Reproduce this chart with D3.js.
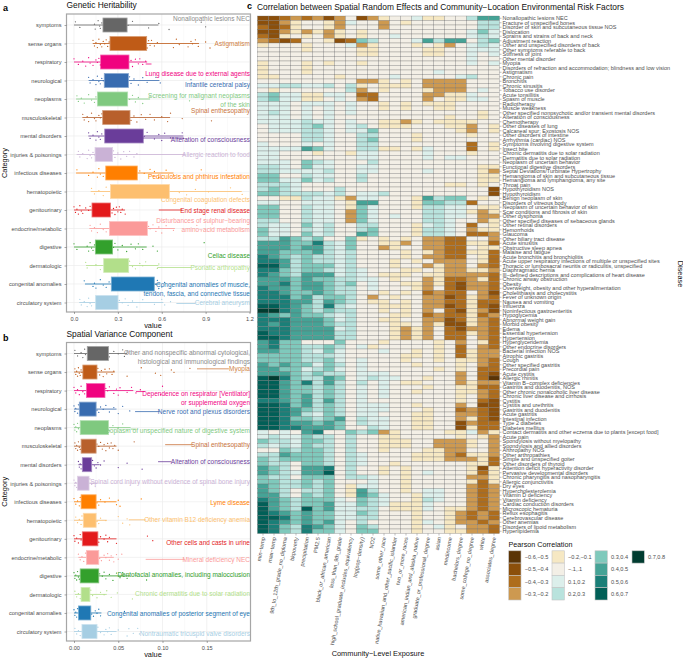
<!DOCTYPE html>
<html><head><meta charset="utf-8">
<script src="https://cdn.jsdelivr.net/npm/d3@7"></script>
<style>html,body{margin:0;padding:0;background:#fff}svg{display:block;font-family:"Liberation Sans",Arial,sans-serif}</style>
</head><body><div id="chart"></div>
<script>
const categories=["symptoms","sense organs","respiratory","neurological","neoplasms","musculoskeletal","mental disorders","injuries & poisonings","infectious diseases","hematopoietic","genitourinary","endocrine/metabolic","digestive","dermatologic","congenital anomalies","circulatory system"];
const categoryColors=["#666666","#bf5b17","#f0027f","#386cb0","#7fc97f","#b8602c","#6a3d9a","#cab2d6","#ff7f00","#fdbf6f","#e31a1c","#fb9a99","#33a02c","#b2df8a","#1f78b4","#a6cee3"];
const labelColors=["#8c8c8c","#cf7f45","#f0027f","#386cb0","#7fc97f","#c9733c","#6a3d9a","#cab2d6","#ff7f00","#fdbf6f","#e31a1c","#fb9a99","#33a02c","#b2df8a","#1f78b4","#a6cee3"];

// panel a: [whiskerLow, q1, q3, whiskerHigh]
const heritabilityBoxes=[[0,.198,.363,.577],[.128,.246,.497,.855],[0,.182,.376,.5],[.1,.207,.372,.584],[.014,.16,.367,.52],[.057,.196,.383,.657],[.098,.21,.474,.748],[.018,.144,.264,.44],[.014,.217,.433,.68],[.114,.249,.652,1.147],[0,.123,.249,.349],[.105,.242,.502,.69],[0,.146,.264,.497],[.082,.203,.374,.577],[.075,.255,.549,.59],[.036,.148,.301,.611]];
const heritabilityPoints=[
[.01,.04,.14,.145,.165,.175,.18,.19,.37,.4,.51,.58,.65,.87,.9],
[.13,.14,.15,.16,.17,.18,.19,.2,.21,.22,.23,.24,.5,.51,.52,.53,.55,.57,.68,.7,.72,.78,.8,.81,.83,.85,.9,.93],
[0,.03,.06,.08,.1,.11,.13,.15,.16,.17,.18,.39,.4,.42,.44,.45,.47,.49],
[.1,.11,.13,.15,.16,.17,.18,.19,.2,.38,.39,.41,.44,.47,.5,.56,.59,.8],
[.02,.03,.05,.07,.1,.12,.14,.15,.38,.4,.42,.44,.47,.52,.79],
[.06,.07,.09,.1,.12,.14,.15,.17,.18,.19,.39,.41,.43,.46,.49,.52,.55,.6,.64,.66,.74,.94],
[.1,.11,.13,.15,.16,.17,.18,.19,.48,.5,.55,.58,.6,.62,.66,.74,.75],
[.03,.04,.06,.09,.1,.11,.12,.13,.14,.27,.28,.3,.32,.34,.36,.38,.41,.43],
[.02,.1,.13,.16,.17,.18,.2,.45,.48,.52,.54,.55,.58,.63,.68,.87],
[.12,.14,.17,.2,.22,.72,.77,.83,.92,1.07,1.15],
[0,.01,.02,.03,.04,.05,.06,.08,.1,.11,.26,.27,.28,.29,.3,.31,.32,.33,.35],
[.11,.12,.14,.16,.18,.2,.22,.51,.52,.54,.56,.58,.6,.63,.68,.84,.87],
[0,.02,.09,.1,.11,.12,.13,.14,.27,.28,.3,.33,.36,.39,.42,.44,.47,.54,.57,.89],
[.08,.09,.15,.18,.38,.4,.42,.45,.47,.49,.57,.58],
[.07,.13,.14,.15,.18,.2,.22,.24,.56,.57,.6,.62,.58],
[.04,.05,.07,.09,.1,.11,.12,.31,.33,.35,.37,.4,.43,.47,.55,.6,.62,.66]];
const heritabilityLabels=[["Nonallopathic lesions NEC"],["Astigmatism"],["Lung disease due to external agents"],["Infantile cerebral palsy"],["Screening for malignant neoplasms","of the skin"],["Spinal enthesopathy"],["Alteration of consciousness"],["Allergic reaction to food"],["Pediculosis and phthirus infestation"],["Congenital coagulation defects"],["End stage renal disease"],["Disturbances of sulphur−bearing","amino−acid metabolism"],["Celiac disease"],["Psoriatic arthropathy"],["Congenital anomalies of muscle,","tendon, fascia, and connective tissue"],["Cerebral aneurysm"]];
const heritabilityLabelShift=[-6.5,0,11.5,4,-3,-6.5,3.5,0,4,8,.5,-8,8.5,2,1,.5];
const heritabilitySegments=[null,null,[.49,.53,2],null,null,null,[.47,.75,2],[.44,.76,0],null,null,[.58,.74,0],null,null,[.57,.8,2],null,[.7,.83,1]];

// panel b
const varianceBoxes=[[0,.015,.039,.06],[0,.01,.026,.046],[0,.014,.035,.067],[0,.006,.025,.048],[0,.007,.039,.064],[0,.008,.025,.048],[.005,.0094,.02,.029],[0,.004,.017,.026],[0,.008,.025,.048],[0,.0105,.025,.037],[0,.0094,.027,.048],[.005,.014,.028,.045],[0,.007,.028,.063],[.001,.008,.018,.037],[0,.005,.019,.031],[0,.009,.026,.048]];
const variancePoints=[
[.001,.004,.008,.01,.012,.013,.04,.045,.05,.055,.057,.06],
[.001,.002,.003,.004,.005,.006,.007,.008,.009,.027,.029,.031,.033,.035,.037,.04,.043,.045,.06,.076,.092,.098,.11,.113,.131],
[0,.002,.004,.006,.008,.01,.012,.036,.038,.04,.045,.048,.05,.052,.06,.065,.07,.075,.098,.1],
[0,.001,.002,.004,.005,.026,.028,.03,.033,.036,.04,.045,.05,.055,.063],
[0,.001,.002,.003,.004,.005,.04,.044,.05,.055,.06],
[.001,.002,.003,.004,.005,.006,.007,.026,.028,.03,.032,.034,.036,.038,.04,.042,.044,.046,.05,.068],
[.005,.006,.007,.008,.021,.023,.025,.027,.03,.034,.05,.06,.077],
[0,.001,.002,.003,.018,.02,.024],
[0,.002,.004,.006,.007,.026,.028,.03,.035,.04,.048,.05,.052,.076],
[.002,.004,.006,.008,.009,.026,.028,.03,.036,.05,.055,.06,.063],
[0,.001,.003,.005,.007,.008,.028,.03,.034,.036,.038,.04,.048,.083,.089],
[.005,.007,.009,.011,.013,.029,.031,.034,.036,.038,.04,.042,.045,.048,.05,.054],
[0,.001,.002,.003,.004,.005,.006,.029,.032,.034,.036,.04,.044,.048,.052,.055,.06,.07,.082],
[.001,.003,.005,.007,.019,.021,.026,.03,.034,.037,.042,.049,.066],
[0,.001,.002,.003,.004,.02,.022,.024,.026,.028,.03,.057],
[.001,.003,.005,.007,.027,.03,.034,.036,.038,.04,.042,.05,.06,.062,.067,.072,.074]];
const varianceLabels=[["Other and nonspecific abnormal cytological,","histological and immunological findings"],["Myopia"],["Dependence on respirator [Ventilator]","or supplemental oxygen"],["Nerve root and plexus disorders"],["Neoplasm of unspecified nature of digestive system"],["Spinal enthesopathy"],["Alteration of consciousness"],["Spinal cord injury without evidence of spinal bone injury"],["Lyme disease"],["Other vitamin B12 deficiency anemia"],["Other cells and casts in urine"],["Mineral deficiency NEC"],["Dentofacial anomalies, including malocclusion"],["Chronic dermatitis due to solar radiation"],["Congenital anomalies of posterior segment of eye"],["Nontraumatic tricuspid valve disorders"]];
const varianceLabelShift=[-1,-3.2,3.5,3,3.5,-1,-3,-1.5,1.5,-.3,3.7,2,-1,-.5,.5,2];
const varianceSegments=[null,[.139,.175,-3.2],[.07,.08,1],[.069,.097,2.5],[.064,.07,1.5],[.103,.134,-1.5],[.095,.11,-3],null,null,[.062,.081,-.5],null,[.081,.125,2],null,null,null,null];

// panel c
const exposures=["min−temp","max−temp","9th_to_12th_grade_no_diploma","bkpoverty","precipitation","PM2.5","black_or_african_american","less_than_9th_grade","high_school_graduate_includes_equivalency","log(pop−density)","NO2","some_other_race","native_hawaiian_and_other_pacific_islander","two_or_more_races","american_indian_and_alaska_native","graduate_or_professional_degree","asian","medincome","bachelors_degree","some_college_no_degree","white","associates_degree"];
const diseases=["Nonallopathic lesions NEC","Fracture of unspecified bones","Disorder of skin and subcutaneous tissue NOS","Dislocation","Sprains and strains of back and neck","Adjustment reaction","Other and unspecified disorders of back","Other symptoms referable to back","Stiffness of joint","Other mental disorder","Myopia","Disorders of refraction and accommodation; blindness and low vision","Astigmatism","Chronic pain","Bronchitis","Chronic sinusitis","Tobacco use disorder","Acute tonsillitis","Spasm of muscle","Radiotherapy","Muscle weakness","Other specified nonpsychotic and/or transient mental disorders","Alteration of consciousness","Chemotherapy","Other diseases of lung","Calcaneal spur; Exostosis NOS","Other disorders of intestine","Arrhythmia (cardiac) NOS","Symptoms involving digestive system","Insect bite","Chronic dermatitis due to solar radiation","Dermatitis due to solar radiation","Neoplasm of uncertain behavior","Functional digestive disorders","Septal Deviations/Turbinate Hypertrophy","Hemangioma of skin and subcutaneous tissue","Hemangioma and lymphangioma, any site","Throat pain","Hypothyroidism NOS","Hypothyroidism","Benign neoplasm of skin","Disorders of vitreous body","Neoplasm of uncertain behavior of skin","Scar conditions and fibrosis of skin","Other dysphonia","Other specified diseases of sebaceous glands","Other retinal disorders","Hemorrhoids","Glaucoma","Other biliary tract disease","Acute sinusitis","Obstructive sleep apnea","Malaise and fatigue","Acute bronchitis and bronchiolitis","Acute upper respiratory infections of multiple or unspecified sites","Thoracic or lumbosacral neuritis or radiculitis, unspecified","Diaphragmatic hernia","Ill−defined descriptions and complications of heart disease","Chronic airway obstruction","Obesity","Overweight, obesity and other hyperalimentation","Cholelithiasis and cholecystitis","Fever of unknown origin","Nausea and vomiting","Influenza","Noninfectious gastroenteritis","Hypoglycemia","Abnormal weight gain","Morbid obesity","Edema","Essential hypertension","Hypertension","Hyperglyceridemia","Other endocrine disorders","Bacterial infection NOS","Atrophic gastritis","Cough","Other specified gastritis","Precordial pain","Acute cystitis","Allergic rhinitis","Vitamin B−complex deficiencies","Gastritis and duodenitis, NOS","Other chronic nonalcoholic liver disease","Chronic liver disease and cirrhosis","Cystitis","Cystitis and urethritis","Gastritis and duodenitis","Acute gastritis","Intestinal infection","Type 2 diabetes","Diabetes mellitus","Contact dermatitis and other eczema due to plants [except food]","Acute pain","Spondylosis without myelopathy","Spondylosis and allied disorders","Arthropathy NOS","Other arthropathies","Simple and unspecified goiter","Other disorders of thyroid","Attention deficit hyperactivity disorder","Pervasive developmental disorders","Chronic pharyngitis and nasopharyngitis","Allergic conjunctivitis","Dry eyes","Hypercholesterolemia","Vitamin D deficiency","Vitamin deficiency","Cardiac conduction disorders","Microscopic hematuria","Reflux esophagitis","Cerebrovascular disease","Other anemias","Disorders of lipoid metabolism","Hyperlipidemia"];
const binCodes=["a","b","c","d","e",".","g","h","i","j","k","l","m"];
const binLabels=["−0.6,−0.5","−0.5,−0.4","−0.4,−0.3","−0.3,−0.2","−0.2,−0.1","−.1,.1","0.1,0.2","0.2,0.3","0.3,0.4","0.4,0.5","0.5,0.6","0.6,0.7","0.7,0.8"];
const binColors=["#5a3406","#8b4f0b","#ae6d1c","#cd9950","#f6e8c3","#f3efe6","#dcefeb","#b9e3dd","#7fc9bc","#45a396","#1a7f78","#015f57","#013c30"];
const correlationBins=`
b b c d c d b d . b d e . . g e e . . h j j
b b d e . . e d g . . d . e . . . . . . h h
c b c e . . e d . . . d . . . . . . . . h h
b b d e d e d e . e . . . . . . . . . g i g
c b e . e . d e . e . . g . . . . . . g h g
d c b c . . e b c i h . . . g j h j j . h i
e . . . e . . . g d e . . . e . e d . g h g
. . . . e . . . . e e . . . . e e . . g g g
. . . . . . . . . e e . . . . e e . . g . g
. . . . . . . . . . . . . . . . . . . g . .
e . . . e . e . . e . . . . . . . . . g . g
e . . . e . . . . . . . . . . . . . . . . .
e . . . e . . . . . . . . . . . g . . . . .
e e . . . . . e . . . . g . . . . . g h . .
. . . . . . . . . d d e . e . d d d d . . .
g g h h g g h . h e . e e e . d d d d . . .
. e . . . . . . h d . e . . . e d d d . g .
h i g g e e g g . c c . . . . d d e e g . .
h i g g e e . g . d c . . . . d . e e g g .
g g g . g g g . g . . e . e . e e e . . . .
g g g . g . g . g . . e . e . . e e . . . .
g h g . g . g . g . . . . . . . . . . . e .
g g g . g . g . . . . . . . . . . e . . e .
g g g g h g g . g . . e e d e . e e e e . .
. g g g h i g . g h . e e e . . . e e d . e
. g g g h h g . g g i . . . . . . . e d . e
. . . . h h g . . h h . . . e . . . . e . .
. . . . h h g . . h i . . . e . . . . . . .
g . . . g . g . . h h . . . . . . . . c . e
g g g g j i g . . h h e e . e g . . . c . e
g g . . . e . . e g g . . . . g . . . e . .
g g . . . . . . . g g . . . . g . g g . . .
g g g . i h g . . . h . . . . . . . . . . .
h h g . i g g . . g g . . . . . . . . . e e
h h g g g g h . . g g . . . . g . . . . e d
i i . . h g g . . h . . . . . . . . . . e e
i i g g i g h . . h . . . . . . . . . . e e
h h h g . . . . . . . . . . . . . e e . e .
h i h g . . . h . . . . . . . . . . . . . b
i i h h h h g h . g g h . . . . . . . . . b
. . e e h g g e d g g . . . e j h i i . e .
g g . . g g g . e j j . . . e i i h h c . .
i i . . h g g . e i g . . . e h h g g . e e
i i . . h g g . d i g . . . . h h g g e d e
i i . . h g g . d i g . g . . h h g g . d d
h h . . h g g . d i g . . . . h h g . . d e
h g g . i g h . . h h . . . e g h g . c . e
i g g . h g h . . h i . . . e h h g . d e e
i g g . i g h . . j i . . . e h h g . c c d
h h j i h i . . i e . e . e . d d c c . . d
j j j i i k h g i . . e e d . d d c c e e c
j j j i j j h g i . . d e . . d d c c . e e
j j i i i j h g h . . . . e . e d c c e e c
k j i h i h h g h . . . . e . d d c c . e c
k k j h i h h g h . . . e . e . d d d . e c
l l j h i i i g h . . . e . . d e d d . d c
k k i h i i h g h g . . . e e . e d d e e d
k j i h j j j g h g . e e e . e e d d d d c
j j j i j i i h h g g . e . . d e c c d e c
j j k i j j i h i . g . . e e d e c b d d c
k j j i j j i h h . g . . . e d . c b d d c
k k j i i j i h h . . e . e . c d c c . d b
k k k i j h i i h . d . e . . d d b c e d c
k k k j j h j i h . e e . e . d d c c e c c
l l k j i h k h g . . e e e . d d b c e c b
m m k j i h i h h . . e . e . d . c b e d b
k j i j i i h g h . . . e e . c d c c e c d
k k k j j j i g h . . e e . . d d b c e d c
k j k j j j i h h . . . e e . d e b b e d c
k k k j j j j g h . . . e d e d . c b d d c
l k k j j j j h h . . . e d e d . c c e d c
l l k j j j j h h . . . e d e d . c c . d c
j k i i . . . i . . . e . . . . e . d . e c
j k i i h h i h . g e . . . . . e . c . d c
j j i i h g i g . . . g . . e . e . c e d d
i i i i h h h g . . . . . e e . e . c e d d
i i i i h h i g . g . . . e . . e . e e d c
j i j i i g i h . g . . . . e . . . e . d c
j j i i g h i g . g . . . . . . e . e . c c
j j j i h i h h . g g g . . . . . . d . c b
l m k i h h j i . g h g g . . e . . d . c a
l l j i k h j h . h . g . e e . . . d e d d
l l j i i h i h . g . g . . . e . . e e c c
l l j i i h i h . g . g . . e . . . e e d c
l l j i j h i h . g . g . . . . . . e . d c
k k j i j h j h . g . . . . . . . . e . c b
l l k i j h i h . g g g . . e . . . d . b b
l l k j i h i h . g g g . . . e . . c d c b
l l k j h g i h . g g . . . e e . . d d c b
l l k i i h i j . h g g . . e e . . d e c b
l l k j j i j i . h g g . . e e . . b d c c
l l k k j j j i . . h g . . e e . . b e c c
g . g . j k . . i h i d e . . . . e e g d e
g h g g i h h . h . . e e . . . . . e . e d
i h h g i i h . h . . e e e . . d d d e . d
h g h g i h h . h . . e e e . . d d d e . d
. . i h i i h . h . . e . . . e e d d . . d
h h j i i i h . h g . . . . e e e d c e e d
i h i i i i h . h g . . . . e e e d d d e c
i h h . i i h . h g . . e . . . . . . e e c
j i h . j j k . h . . e . e . . . . . e b e
j i h g j j l . h . . e . e . g . . . e c e
i h h . i i i . h h g . . e . . . . . d d e
i i h h i h i . . . g . . e . . . . . e c e
j i h h i h i . e g g . . e . . . . . d c d
j i h . h h i . e j h . . e . g g . . d c d
j j h . i h i . e j i g . . e g g . . d c d
k j i h i i i g . i h g . . e h g . . d c d
l j i h i i j g g i h g e e e g . . . d c d
l j i h l i j g g h h . e e e g . e e d c d
l k j i j i i g g i h . . . e . . e d c d c
l l k i j i i g g h h . . . e . . e d c d c
l k j i j i j g . h . . . . e g . e d d c d
l k i h k j i g . i h . . . e . g e . d d c
l k i h k i i g . i i . . . e . . e e d d c
`.trim().split("\n").map(r=>r.trim().split(/\s+/));

const W=683,H=661;
const svg=d3.select("#chart").append("svg").attr("width",W).attr("height",H).attr("viewBox",[0,0,W,H]);
const defs=svg.append("defs");
const TXT="#4d4d4d",GRID="#ececec";

function panel(id,letter,letterY,title,top,bottom,xDomain,xTicks,xFormat,boxes,points,labels,shifts,segments){
  const left=66.5,right=250.5,y0=top+11,y1=bottom-9.5;
  const x=d3.scaleLinear().domain(xDomain).range([74,xDomain[1]===1.2?249.5:(74+885*xDomain[1])]);
  const y=d3.scalePoint().domain(categories).range([y0,y1]);
  const g=svg.append("g").attr("id",id);
  defs.append("clipPath").attr("id","clip-"+id).append("rect").attr("x",left).attr("y",top).attr("width",right-left).attr("height",bottom-top);
  g.append("text").attr("x",3).attr("y",letterY).attr("font-weight","bold").attr("font-size",9).attr("fill","#000").text(letter);
  g.append("text").attr("x",left).attr("y",top-6).attr("font-size",8.4).attr("fill","#111").text(title);
  const grid=g.append("g");
  const minors=d3.pairs(xTicks).map(([a,b])=>(a+b)/2);
  grid.selectAll(".minor").data(minors).join("line").attr("x1",d=>x(d)).attr("x2",d=>x(d)).attr("y1",top).attr("y2",bottom).attr("stroke","#f4f4f4").attr("stroke-width",.5);
  grid.selectAll(".vmaj").data(xTicks).join("line").attr("x1",d=>x(d)).attr("x2",d=>x(d)).attr("y1",top).attr("y2",bottom).attr("stroke",GRID).attr("stroke-width",.7);
  grid.selectAll(".hmaj").data(categories).join("line").attr("x1",left).attr("x2",right).attr("y1",d=>y(d)).attr("y2",d=>y(d)).attr("stroke",GRID).attr("stroke-width",.7);
  const plot=g.append("g").attr("clip-path",`url(#clip-${id})`);
  const jitter=[-3.2,2.4,-.8,4.1,-4.3,1.1,3.3,-2.1,.3,-3.7,2.9,-1.5,4.5,-2.8,1.8];
  categories.forEach((c,i)=>{
    const col=categoryColors[i],b=boxes[i],cy=y(c);
    const s=plot.append("g");
    s.append("line").attr("x1",x(b[0])).attr("x2",x(b[3])).attr("y1",cy).attr("y2",cy).attr("stroke",col).attr("stroke-width",.8);
    s.append("rect").attr("x",x(b[1])).attr("y",cy-7).attr("width",x(b[2])-x(b[1])).attr("height",14).attr("fill",col).attr("stroke",d3.interpolateRgb(col,"#fff")(.4)).attr("stroke-width",.8);
    s.selectAll("circle").data(points[i]).join("circle").attr("cx",d=>x(d)).attr("cy",(d,j)=>cy+jitter[j%jitter.length]).attr("r",.65).attr("fill",col);
    const sg=segments[i];
    if(sg) s.append("line").attr("x1",x(sg[0])).attr("x2",x(sg[1])).attr("y1",cy+sg[2]).attr("y2",cy+sg[2]).attr("stroke",labelColors[i]).attr("stroke-width",.8);
    s.append("text").attr("text-anchor","end").attr("font-size",6.5).attr("fill",labelColors[i])
      .selectAll("tspan").data(labels[i]).join("tspan").attr("x",right-.5).attr("y",(d,j)=>cy+shifts[i]+2.2+j*9).text(d=>d);
  });
  g.append("rect").attr("x",left).attr("y",top).attr("width",right-left).attr("height",bottom-top).attr("fill","none").attr("stroke","#a6a6a6").attr("stroke-width",1.2);
  const ax=g.append("g").attr("transform",`translate(0,${bottom})`).call(d3.axisBottom(x).tickValues(xTicks).tickFormat(xFormat).tickSize(2));
  const ay=g.append("g").attr("transform",`translate(${left},0)`).call(d3.axisLeft(y).tickSize(2));
  [ax,ay].forEach(a=>{a.select(".domain").remove();a.selectAll("line").attr("stroke","#555").attr("stroke-width",.5);a.selectAll("text").attr("font-size",5.6).attr("font-family","inherit").attr("fill",TXT);});
  ax.selectAll("text").attr("dy","0.65em");
  g.append("text").attr("x",153).attr("y",bottom+16).attr("text-anchor","middle").attr("font-size",7.4).attr("fill","#111").text("value");
  g.append("text").attr("transform",`translate(6.5,${(top+bottom)/2}) rotate(-90)`).attr("text-anchor","middle").attr("font-size",7.4).attr("fill","#111").text("Category");
}
const fmt1=d3.format(".1f"),fmt2=d3.format(".2f");
panel("panel-a","a",10.5,"Genetic Heritability",14,312,[0,1.2],[0,.3,.6,.9,1.2],fmt1,heritabilityBoxes,heritabilityPoints,heritabilityLabels,heritabilityLabelShift,heritabilitySegments);
panel("panel-b","b",341,"Spatial Variance Component",342.5,641,[0,.2],[0,.05,.1,.15],fmt2,varianceBoxes,variancePoints,varianceLabels,varianceLabelShift,varianceSegments);

const hx=d3.scaleBand().domain(exposures).range([257.5,499.5]).padding(0);
const hy=d3.scaleBand().domain(diseases).range([16,533.5]).padding(0);
const hcol=d3.scaleOrdinal().domain(binCodes).range(binColors);
const hg=svg.append("g").attr("id","panel-c");
hg.append("text").attr("x",247).attr("y",9).attr("font-weight","bold").attr("font-size",9).attr("fill","#000").text("c");
hg.append("text").attr("x",257).attr("y",9.5).attr("font-size",8.4).attr("fill","#111").text("Correlation between Spatial Random Effects and Community−Location Environmental Risk Factors");
const cells=[];
correlationBins.forEach((row,r)=>row.forEach((b,c)=>cells.push({r,c,b})));
hg.append("g").selectAll("rect").data(cells).join("rect")
 .attr("x",d=>hx(exposures[d.c])).attr("y",d=>hy(diseases[d.r])).attr("width",hx.bandwidth()).attr("height",hy.bandwidth())
 .attr("fill",d=>hcol(d.b)).attr("stroke","#6f6f6f").attr("stroke-width",.3);
const hay=hg.append("g").attr("transform","translate(499.5,0)").call(d3.axisRight(hy).tickSize(2).tickPadding(1));
const hax=hg.append("g").attr("transform","translate(0,533.5)").call(d3.axisBottom(hx).tickSize(2).tickPadding(1));
[hay,hax].forEach(a=>{a.select(".domain").remove();a.selectAll("line").attr("stroke","#555").attr("stroke-width",.4);a.selectAll("text").attr("font-size",5.5).attr("font-family","inherit").attr("fill",TXT);});
hax.selectAll("text").attr("text-anchor","end").attr("dy",0).attr("y",0).attr("transform","translate(2,4) rotate(-80)");
hg.append("text").attr("x",378).attr("y",656).attr("text-anchor","middle").attr("font-size",7.4).attr("fill","#111").text("Community−Level Exposure");
hg.append("text").attr("transform","translate(677.5,274) rotate(90)").attr("text-anchor","middle").attr("font-size",7.4).attr("fill","#111").text("Disease");

const lg=svg.append("g").attr("id","legend");
lg.append("text").attr("x",508.5).attr("y",546.5).attr("font-size",7.2).attr("fill","#111").text("Pearson Correlation");
const lcols=[508.7,552,595,632],lk=12.3;
binLabels.forEach((t,i)=>{
  const c=Math.min(Math.floor(i/4),3),rw=i%4;
  const gk=lg.append("g").attr("transform",`translate(${lcols[c]},${550.8+rw*lk})`);
  gk.append("rect").attr("width",lk).attr("height",lk).attr("fill",binColors[i]).attr("stroke","#c4c4c4").attr("stroke-width",.6);
  gk.append("text").attr("x",lk+3.7).attr("y",lk/2+2).attr("font-size",5.6).attr("fill",TXT).text(t);
});
</script></body></html>
